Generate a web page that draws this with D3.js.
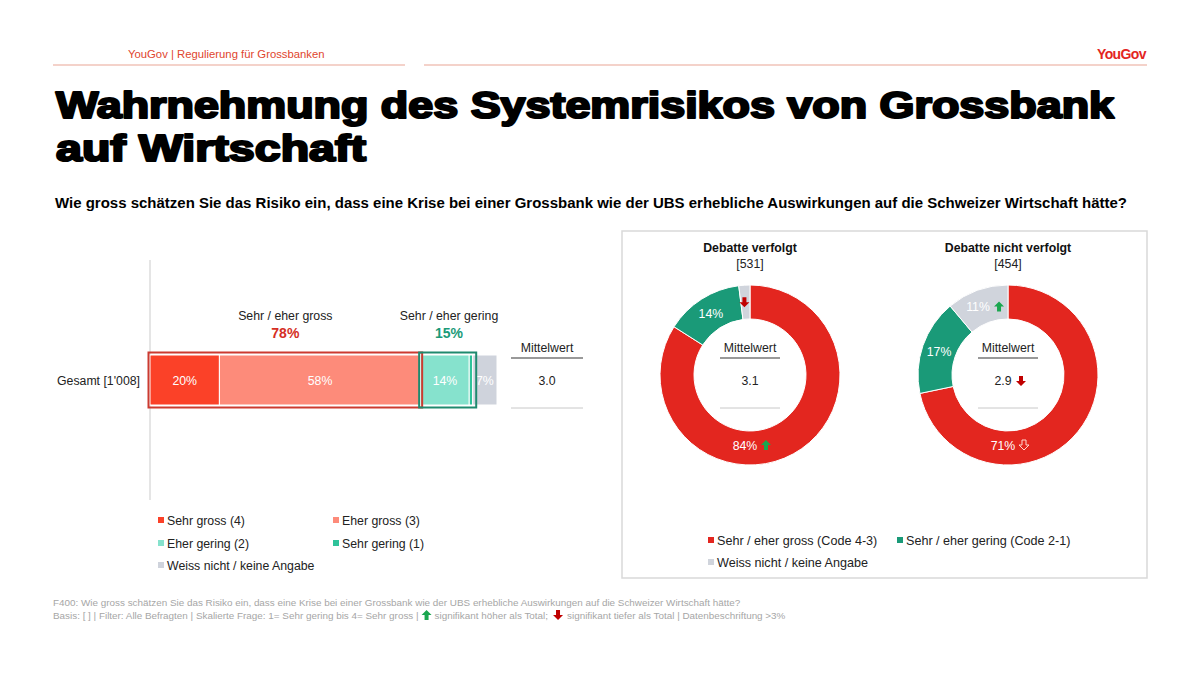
<!DOCTYPE html>
<html>
<head>
<meta charset="utf-8">
<script src="https://cdn.jsdelivr.net/npm/d3@7"></script>
<style>
  body { margin: 0; background: #fff; }
  text { font-family: "Liberation Sans", Arial, sans-serif; }
</style>
</head>
<body>
<script>
//Width and height
var w = 1200;
var h = 674;

//Data: overall bar
var barCategories = ["Sehr gross (4)", "Eher gross (3)", "Eher gering (2)", "Sehr gering (1)", "Weiss nicht / keine Angabe"];
var barValues = [20, 58, 14, 1, 7];
var barColors = ["#fb4128", "#fd8b7a", "#86e2cd", "#2fc39a", "#cfd3dc"];
var barRow = "Gesamt [1'008]";
var barMean = "3.0";
var netLabels = ["Sehr / eher gross", "Sehr / eher gering"];
var netValues = [78, 15];

//Data: donuts
var donutCategories = ["Sehr / eher gross (Code 4-3)", "Sehr / eher gering (Code 2-1)", "Weiss nicht / keine Angabe"];
var donutColors = ["#e3261f", "#1a9a78", "#d0d4dc"];
var donutGroups = ["Debatte verfolgt", "Debatte nicht verfolgt"];
var donutBases = ["[531]", "[454]"];
var verfolgtValues = [84, 14, 2];
var nichtVerfolgtValues = [71, 17, 11];
var verfolgtSig = ["up", null, "down"];
var nichtVerfolgtSig = ["down-outline", null, "up"];
var donutMeans = ["3.1", "2.9"];
var donutMeanSig = [null, "down"];

//Create SVG element
var svg = d3.select("body")
        .append("svg")
        .attr("width", w)
        .attr("height", h);

//Header
svg.append("text").attr("x", 128).attr("y", 58)
   .attr("font-size", 11.3).attr("fill", "#e0452e")
   .text("YouGov | Regulierung für Grossbanken");
svg.append("line").attr("x1", 53).attr("x2", 405).attr("y1", 65).attr("y2", 65)
   .attr("stroke", "#f0c3b8").attr("stroke-width", 1.5);
svg.append("line").attr("x1", 424).attr("x2", 1147).attr("y1", 65).attr("y2", 65)
   .attr("stroke", "#f0c3b8").attr("stroke-width", 1.5);
svg.append("text").attr("x", 1146).attr("y", 59).attr("text-anchor", "end")
   .attr("font-size", 14).attr("font-weight", "bold").attr("fill", "#e3261f")
   .attr("letter-spacing", -0.6)
   .text("YouGov");

//Title (heavy weight faked with a stroke)
var titleLines = ["Wahrnehmung des Systemrisikos von Grossbank", "auf Wirtschaft"];
var titleWidths = [1060, 312];
titleLines.forEach(function(t, i) {
  svg.append("text").attr("x", 56).attr("y", 118 + i * 43)
     .attr("font-size", 37).attr("font-weight", "bold")
     .attr("font-family", "'Liberation Sans', Arial, sans-serif")
     .attr("textLength", titleWidths[i] - 2).attr("lengthAdjust", "spacingAndGlyphs")
     .attr("fill", "#000").attr("stroke", "#000").attr("stroke-width", 2.2)
     .attr("stroke-linejoin", "round")
     .text(t);
});

//Subtitle
svg.append("text").attr("x", 55).attr("y", 208)
   .attr("font-size", 14.5).attr("font-weight", "bold").attr("fill", "#000")
   .attr("textLength", 1072).attr("lengthAdjust", "spacingAndGlyphs")
   .text("Wie gross schätzen Sie das Risiko ein, dass eine Krise bei einer Grossbank wie der UBS erhebliche Auswirkungen auf die Schweizer Wirtschaft hätte?");

//Arrow helper
function arrow(g, x, y, type) {
  var up = type === "up";
  var p = up
    ? "M0,-5 L5,0 L2,0 L2,5 L-2,5 L-2,0 L-5,0 Z"
    : "M0,5 L5,0 L2,0 L2,-5 L-2,-5 L-2,0 L-5,0 Z";
  g.append("path").attr("d", p)
   .attr("transform", "translate(" + x + "," + y + ")")
   .attr("fill", up ? "#1aa64f" : (type === "down-outline" ? "#e3261f" : "#c00000"))
   .attr("stroke", type === "down-outline" ? "#ffd6d0" : "none")
   .attr("stroke-width", 1);
}

//Bar chart
var x = d3.scaleLinear().domain([0, 100]).range([150, 497]);
var barY = 355, barH = 50;

svg.append("line").attr("x1", 150).attr("x2", 150).attr("y1", 260).attr("y2", 500)
   .attr("stroke", "#dcdcdc").attr("stroke-width", 1.5);

var stacked = [];
var acc = 0;
barValues.forEach(function(v, i) {
  stacked.push({ start: acc, end: acc + v, value: v, color: barColors[i] });
  acc += v;
});

svg.selectAll("rect.seg")
   .data(stacked)
   .enter()
   .append("rect")
   .attr("class", "seg")
   .attr("x", function(d) { return x(d.start); })
   .attr("y", barY)
   .attr("width", function(d) { return x(d.end) - x(d.start); })
   .attr("height", barH)
   .attr("fill", function(d) { return d.color; })
   .attr("stroke", "#fff").attr("stroke-width", 1);

svg.selectAll("text.seg")
   .data(stacked.filter(function(d) { return d.value > 3; }))
   .enter()
   .append("text")
   .attr("x", function(d) { return (x(d.start) + x(d.end)) / 2; })
   .attr("y", barY + barH / 2 + 4.5)
   .attr("text-anchor", "middle")
   .attr("font-size", 12.3).attr("fill", "#fff")
   .text(function(d) { return d.value + "%"; });

//Net boxes
var nets = [
  { start: 0, end: barValues[0] + barValues[1], color: "#cc3a30", text: "#d52e24" },
  { start: barValues[0] + barValues[1], end: barValues[0] + barValues[1] + barValues[2] + barValues[3], color: "#1f8a6e", text: "#1a9a78" }
];
nets.forEach(function(n, i) {
  svg.append("rect")
     .attr("x", x(n.start) - 1.5).attr("y", barY - 2.5)
     .attr("width", x(n.end) - x(n.start) + 3 + (i === 1 ? 2 : 0)).attr("height", barH + 5)
     .attr("fill", "none").attr("stroke", n.color).attr("stroke-width", 2);
  var cx = (x(n.start) + x(n.end)) / 2;
  if (i === 1) cx = 449;
  svg.append("text").attr("x", cx).attr("y", 320).attr("text-anchor", "middle")
     .attr("font-size", 12.3).attr("fill", "#222").text(netLabels[i]);
  svg.append("text").attr("x", cx).attr("y", 338).attr("text-anchor", "middle")
     .attr("font-size", 14).attr("font-weight", "bold").attr("fill", n.text)
     .text(netValues[i] + "%");
});

//Row label
svg.append("text").attr("x", 140).attr("y", barY + barH / 2 + 4.5).attr("text-anchor", "end")
   .attr("font-size", 12.3).attr("fill", "#222").text(barRow);

//Mean column
function meanBlock(g, cx, yTop, half, value, sig) {
  g.append("text").attr("x", cx).attr("y", yTop).attr("text-anchor", "middle")
   .attr("font-size", 12.3).attr("fill", "#222").text("Mittelwert");
  g.append("line").attr("x1", cx - half).attr("x2", cx + half).attr("y1", yTop + 6).attr("y2", yTop + 6)
   .attr("stroke", "#777").attr("stroke-width", 1.5);
  var t = g.append("text").attr("x", cx).attr("y", yTop + 33).attr("text-anchor", "middle")
   .attr("font-size", 12.3).attr("fill", "#222").text(value);
  if (sig) {
    t.attr("x", cx - 5);
    arrow(g, cx + 13, yTop + 29, sig);
  }
  g.append("line").attr("x1", cx - half).attr("x2", cx + half).attr("y1", yTop + 56).attr("y2", yTop + 56)
   .attr("stroke", "#c8c8c8").attr("stroke-width", 1);
}
meanBlock(svg, 547, 352, 36, barMean, null);

//Left legend
var legPos = [[158, 521], [333, 521], [158, 544], [333, 544], [158, 566]];
barCategories.forEach(function(c, i) {
  svg.append("rect").attr("x", legPos[i][0]).attr("y", legPos[i][1] - 4)
     .attr("width", 6).attr("height", 6).attr("fill", barColors[i]);
  svg.append("text").attr("x", legPos[i][0] + 9).attr("y", legPos[i][1] + 4)
     .attr("font-size", 12.3).attr("fill", "#222").text(c);
});

//Donut panel
svg.append("rect").attr("x", 622).attr("y", 231).attr("width", 525).attr("height", 347)
   .attr("fill", "none").attr("stroke", "#d9d9d9").attr("stroke-width", 1.5);

var pie = d3.pie().sort(null).value(function(d) { return d; });
var rOut = 90, rIn = 56;
var arc = d3.arc().innerRadius(rIn).outerRadius(rOut);
var donutData = [verfolgtValues, nichtVerfolgtValues];
var donutSigs = [verfolgtSig, nichtVerfolgtSig];
var centers = [750, 1008];
var cy = 375;

donutData.forEach(function(vals, k) {
  var g = svg.append("g").attr("transform", "translate(" + centers[k] + "," + cy + ")");
  var arcs = pie(vals);
  g.selectAll("path.slice")
   .data(arcs)
   .enter()
   .append("path")
   .attr("class", "slice")
   .attr("d", arc)
   .attr("fill", function(d, i) { return donutColors[i]; })
   .attr("stroke", "#fff").attr("stroke-width", 1);

  arcs.forEach(function(d, i) {
    var mid = (d.startAngle + d.endAngle) / 2;
    if (i === 0) mid = Math.PI;
    var rl = (rIn + rOut) / 2;
    var lx = rl * Math.sin(mid), ly = -rl * Math.cos(mid);
    if (i === 0) ly -= 3;
    var sig = donutSigs[k][i];
    if (d.data > 3) {
      g.append("text").attr("x", sig ? lx - 5 : lx).attr("y", ly + 4.5)
       .attr("text-anchor", "middle").attr("font-size", 12.3).attr("fill", "#fff")
       .text(d.data + "%");
      if (sig) arrow(g, lx + 16, ly, sig);
    } else if (sig) {
      arrow(g, lx - 1, ly, sig);
    }
  });

  //Headers
  svg.append("text").attr("x", centers[k]).attr("y", 252).attr("text-anchor", "middle")
     .attr("font-size", 12.3).attr("font-weight", "bold").attr("fill", "#111").text(donutGroups[k]);
  svg.append("text").attr("x", centers[k]).attr("y", 268).attr("text-anchor", "middle")
     .attr("font-size", 12.3).attr("fill", "#222").text(donutBases[k]);

  meanBlock(g, 0, -23, 30, donutMeans[k], donutMeanSig[k]);
});

//Right legend
var legPos2 = [[708, 541], [897, 541], [708, 563]];
donutCategories.forEach(function(c, i) {
  svg.append("rect").attr("x", legPos2[i][0]).attr("y", legPos2[i][1] - 4)
     .attr("width", 6).attr("height", 6).attr("fill", donutColors[i]);
  svg.append("text").attr("x", legPos2[i][0] + 9).attr("y", legPos2[i][1] + 4)
     .attr("font-size", 12.6).attr("fill", "#222").text(c);
});

//Footnote
svg.append("text").attr("x", 53).attr("y", 606).attr("font-size", 9.9).attr("fill", "#a6a6a6")
   .text("F400: Wie gross schätzen Sie das Risiko ein, dass eine Krise bei einer Grossbank wie der UBS erhebliche Auswirkungen auf die Schweizer Wirtschaft hätte?");
var foot = svg.append("g");
var f1 = foot.append("text").attr("x", 53).attr("y", 619).attr("font-size", 9.9).attr("fill", "#a6a6a6")
   .text("Basis: [ ] | Filter: Alle Befragten | Skalierte Frage: 1= Sehr gering bis 4= Sehr gross |");
var x1 = 53 + f1.node().getComputedTextLength();
arrow(foot, x1 + 8, 615, "up");
var f2 = foot.append("text").attr("x", x1 + 16).attr("y", 619).attr("font-size", 9.9).attr("fill", "#a6a6a6")
   .text("signifikant höher als Total;");
var x2 = x1 + 16 + f2.node().getComputedTextLength();
arrow(foot, x2 + 10, 615, "down");
foot.append("text").attr("x", x2 + 19).attr("y", 619).attr("font-size", 9.9).attr("fill", "#a6a6a6")
   .text("signifikant tiefer als Total | Datenbeschriftung >3%");
</script>
</body>
</html>
